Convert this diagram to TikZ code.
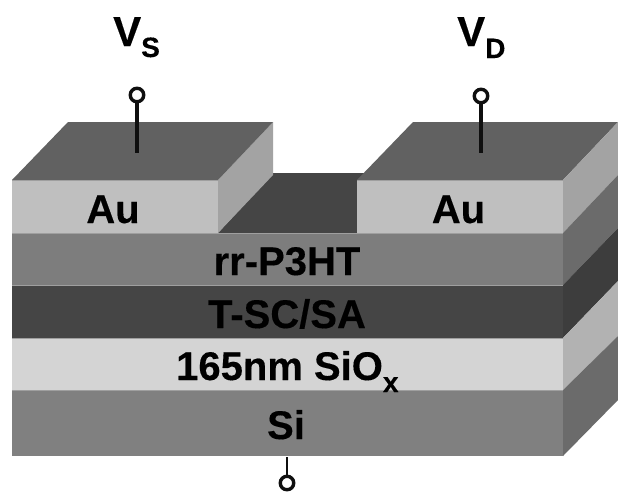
\documentclass[tikz,border=0pt]{standalone}
\usepackage{fontspec}
\setmainfont{Liberation Sans}
\newfontfamily\lblfont{Liberation Sans Bold}[FakeBold=0.3]
\definecolor{topgray}{gray}{0.38}
\definecolor{augray}{gray}{0.75}
\definecolor{ausidegray}{gray}{0.64}
\definecolor{pgray}{gray}{0.49}
\definecolor{psidegray}{gray}{0.42}
\definecolor{tgray}{gray}{0.27}
\definecolor{tsidegray}{gray}{0.24}
\definecolor{ogray}{gray}{0.83}
\definecolor{osidegray}{gray}{0.70}
\definecolor{sigray}{gray}{0.50}
\definecolor{sisidegray}{gray}{0.42}
\definecolor{wiregray}{gray}{0.06}
\newcommand{\subtxt}[2]{\raisebox{#1}{\fontsize{28}{30}\selectfont #2}}
\tikzset{
  x=1pt,y=-1pt,
  lbl/.style={font=\lblfont\fontsize{40}{42}\selectfont,text=black,inner sep=0pt,anchor=base},
  vlbl/.style={font=\lblfont\fontsize{42}{44}\selectfont,text=black,inner sep=0pt,anchor=base west},
  term/.style={circle,draw=wiregray,fill=white,line width=3.4pt,minimum size=13.5pt,inner sep=0pt},
  wire/.style={draw=wiregray,line width=3.6pt},
  sepline/.style={line width=0.8pt,draw=gray!75}
}
\begin{document}
\begin{tikzpicture}
\useasboundingbox (0,0) rectangle (618,491);
\fill[white] (0,0) rectangle (618,491);
% channel (top of semiconductor)
\fill[tgray] (218,233) -- (273,173) -- (370,173) -- (357,190) -- (357,233) -- cycle;
% front layers
\fill[sigray] (12,390) rectangle (563,456);
\fill[ogray] (12,338) rectangle (563,390);
\fill[tgray] (12,285) rectangle (563,338);
\fill[pgray] (12,233) rectangle (563,285);
% Au pads front
\fill[augray] (12,180) rectangle (218,233);
\fill[augray] (357,180) rectangle (563,233);
% Au left pad side
\fill[ausidegray] (218,180) -- (273,122) -- (273,175) -- (218,233) -- cycle;
% Au tops
\fill[topgray] (12,180) -- (68,122) -- (273,122) -- (218,180) -- cycle;
\fill[topgray] (357,180) -- (413,122) -- (618,122) -- (563,180) -- cycle;
% right sides
\fill[ausidegray] (563,180) -- (618,122) -- (618,175) -- (563,233) -- cycle;
\fill[psidegray] (563,233) -- (618,175) -- (618,228) -- (563,285) -- cycle;
\fill[tsidegray] (563,285) -- (618,228) -- (618,281) -- (563,338) -- cycle;
\fill[osidegray] (563,338) -- (618,281) -- (618,336) -- (563,390) -- cycle;
\fill[sisidegray] (563,390) -- (618,336) -- (618,400) -- (563,456) -- cycle;
% separators
\foreach \yy in {180,233,285,338,390}{\draw[sepline] (12,\yy) -- (218,\yy);}
\foreach \yy in {180,233,285,338,390}{\draw[sepline] (357,\yy) -- (563,\yy);}
\foreach \yy in {285,338,390}{\draw[sepline] (218,\yy) -- (357,\yy);}
\draw[sepline] (218,233) -- (357,233);
% terminals
\node[term] (ts) at (137,95) {};
\node[term] (td) at (481,96) {};
\node[term] (tg) at (287,483) {};
\coordinate (es) at (137,153);
\coordinate (ed) at (481,153);
\coordinate (eg) at (287,457);
\draw[wire] (ts) -- (es);
\draw[wire] (td) -- (ed);
\draw[draw=wiregray,line width=2.8pt] (tg) -- (eg);
% labels
\node[vlbl] (vs) at (113,46) {V\subtxt{-11pt}{S}};
\node[vlbl] (vd) at (457,46) {V\subtxt{-12pt}{D}};
\node[lbl] (au1) at (113,223) {Au};
\node[lbl] (au2) at (458.5,223) {Au};
\node[lbl] (p3) at (287,275) {rr-P3HT};
\node[lbl] (sc) at (287,328) {T-SC/SA};
\node[lbl,anchor=base west] (ox) at (176,380) {165nm SiO\subtxt{-12pt}{x}};
\node[lbl] (si) at (286,439) {Si};
\end{tikzpicture}
\end{document}
